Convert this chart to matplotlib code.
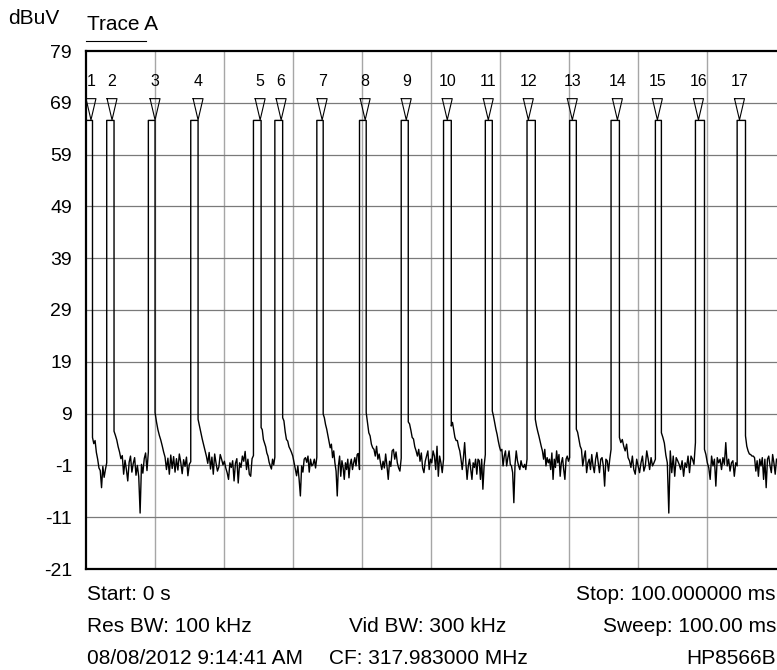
import numpy as np
import matplotlib.pyplot as plt
from matplotlib.lines import Line2D

plt.rcParams['axes.unicode_minus'] = False

# pulse edges in ms
rise_ms = [0.0, 3.0, 9.03, 15.17, 24.25, 27.35, 33.43, 39.61, 45.65,
           51.78, 57.83, 63.87, 70.04, 76.04, 82.46, 88.26, 94.30]
fall_ms = [0.94, 4.06, 10.0, 16.23, 25.36, 28.48, 34.35, 40.58, 46.67,
           52.9, 58.84, 65.07, 71.01, 77.25, 83.33, 89.57, 95.51]
pulse_top = 65.6

# marker positions (ms) and levels
marker_ms = [0.72, 3.77, 10.0, 16.23, 25.22, 28.26, 34.2, 40.43, 46.38,
             52.32, 58.26, 64.06, 70.43, 76.96, 82.75, 88.7, 94.64]
marker_tip = 65.7
marker_top = 69.8
marker_names = [str(i) for i in range(1, 18)]

# trace values between pulses (dBuV), one list per gap
gaps = [
    [4.4, 3.2, 3.8, 1.5, 0.2, -1.5, -2.0, -5.3, -1.2, -3.3, -1.8, -0.5],
    [5.6, 4.8, 3.9, 2.6, 1.6, 0.3, 0.9, -2.7, 0.0, -1.8, -4.0, -0.4, 0.8,
     -2.3, -0.6, 0.5, -2.9, -1.0, -3.2, -10.2, -0.8, -2.5, 0.3, 1.4, -2.0, 1.6],
    [9.2, 7.4, 5.9, 4.8, 3.9, 2.8, 1.6, 0.6, -1.8, 0.4, -2.7, 1.0, -1.6,
     0.7, -2.3, 0.3, -1.9, 1.2, -0.4, -2.6, 0.1, -1.2, 0.6, -3.0, -0.8, -0.3],
    [7.9, 6.6, 5.3, 4.1, 3.0, 1.9, 0.8, -0.6, 1.5, -1.7, 0.6, -2.7, 1.2,
     -0.6, -2.1, -1.3, 1.1, 0.2, -0.9, -0.2, -1.5, -2.4, -3.7, -0.5, -1.4,
     -0.1, -4.0, -0.6, 0.3, -4.4, -0.5, -1.4, 0.8, -0.2, 1.7, -1.8, 0.2,
     -2.7, -3.1, 0.3, 0.9],
    [6.3, 5.9, 4.0, 3.3, 2.6, 1.4, 0.8, -0.4, -1.1, -1.7, 0.2, -0.9, 0.6],
    [8.2, 7.6, 5.5, 4.0, 3.7, 2.6, 2.1, 1.5, 0.8, -0.4, -1.7, -3.0, -1.1,
     -3.7, -6.9, -1.1, -2.3, 0.2, 0.5, -0.4, 0.8, -2.3, 0.2, -1.1, -0.8,
     0.2, -1.5, 0.6],
    [8.9, 8.2, 6.9, 6.0, 4.8, 3.7, 2.4, 3.1, 0.5, 1.8, -0.5, -2.1, -6.9,
     -1.1, 0.8, -3.1, -0.1, -1.4, -3.7, -0.5, -1.8, 0.2, -3.4, -0.8, 0.2,
     -1.8, -0.5, 0.5, -1.1, 1.1, 1.3, -1.8],
    [9.2, 7.3, 5.3, 4.7, 3.1, 2.4, 2.1, 0.8, 2.7, 0.2, 1.2, -0.5, -1.8,
     -0.2, -1.5, 1.2, -1.1, -3.7, -0.2, -1.2, 1.8, 2.1, 0.2, 1.6, -0.5,
     -1.5, -2.1, 0.4],
    [7.4, 7.0, 5.8, 4.4, 4.1, 2.6, 1.8, 0.8, 2.1, -0.2, 1.4, -1.5, -2.4,
     -0.2, 0.8, 1.8, -1.8, 0.2, -0.5, 1.8, 0.8, -1.8, 2.7, -3.1, 0.8, -0.5,
     -2.4, 0.2],
    [6.6, 7.3, 5.8, 4.4, 3.8, 3.8, 2.6, 1.8, 0.2, -1.8, 0.5, 3.4, -0.5,
     -3.7, -1.1, 0.2, -1.8, -3.7, -0.5, -1.4, 0.2, -2.7, 0.2, -0.1, -3.7,
     0.2, -5.6, -1.1, 1.1],
    [9.5, 8.5, 7.2, 6.0, 5.0, 3.7, 2.6, 1.8, 2.1, -1.1, 0.8, 1.8, -1.1,
     0.5, 1.8, -0.8, -1.1, -2.4, -8.2, -0.8, 1.8, -0.1, -1.1, -1.8, -0.1,
     -1.1, -1.4, -0.8, -1.8, 0.2],
    [7.9, 6.6, 5.6, 4.7, 3.7, 2.7, 1.8, 0.2, 2.1, -1.1, 0.5, -0.5, 0.2,
     -1.8, 1.4, -3.7, 0.2, -1.4, 1.8, -0.5, 1.1, -3.1, -0.5, 0.5, -1.8,
     -3.7, 0.2, 0.8, -0.2, 0.5],
    [6.0, 5.4, 4.0, 2.7, 2.1, -1.1, 0.5, 1.8, -2.4, -0.5, 0.2, -1.8, 1.1,
     -1.1, -2.4, 0.2, 1.5, -0.5, -2.4, 0.2, 0.5, -1.1, -5.0, 0.2, -0.1,
     -2.1, 0.2, 2.1],
    [4.4, 3.4, 4.0, 2.7, 1.8, 3.1, 0.5, -0.1, -1.4, 0.8, -1.8, -2.7, 0.2,
     -1.1, -2.4, -0.5, 0.8, -2.1, -1.1, 1.8, 0.2, -1.8, 0.5, -1.1, -0.5, 0.2],
    [5.3, 4.4, 3.3, 1.0, -0.5, -10.2, 1.8, -2.4, 0.8, -3.1, 0.5, -0.1,
     -0.8, -1.8, -0.1, -3.1, -0.5, -1.4, 0.8, -2.4, 0.8, 0.2, -0.8, 3.4],
    [2.1, 1.1, -0.5, -1.4, -3.7, 0.8, -1.1, 0.2, -5.0, 0.5, -0.5, 0.2,
     -1.8, 0.5, -0.8, 3.4, -1.1, 0.2, -2.1, -0.5, -0.1, -3.1, -0.5, -1.1],
    [4.7, 2.7, 1.8, 1.2, 1.1, 0.8, 0.8, 0.5, -2.1, -0.1, -3.1, 0.2, -1.1,
     0.5, -3.7, 0.2, -5.3, 0.2, 0.8, -1.1, -2.4, 1.1, -0.5, -2.7, 0.2],
]
sweep_ms = 100.0

# assemble the trace
t = []
v = []
for i in range(len(rise_ms)):
    t += [rise_ms[i], fall_ms[i]]
    v += [pulse_top, pulse_top]
    end = rise_ms[i + 1] if i + 1 < len(rise_ms) else sweep_ms
    xs = np.linspace(fall_ms[i], end, len(gaps[i]))
    t += list(xs)
    v += gaps[i]

fig = plt.figure(figsize=(7.77, 6.70), dpi=100)
ax = fig.add_axes([86 / 777, 1 - 569 / 670, 690.5 / 777, 518 / 670])

ax.set_xlim(0, 100)
ax.set_ylim(-21, 79)
ax.set_xticks(np.arange(0, 101, 10))
ax.set_yticks(np.arange(-21, 80, 10))
ax.set_xticklabels([])
ax.tick_params(length=0, labelsize=14, pad=10)
for lab in ax.get_yticklabels():
    lab.set_family('Liberation Sans')

for x in np.arange(10, 100, 10):
    ax.axvline(x, color='#a6a6a6', lw=1.0, zorder=0)
for y in np.arange(-11, 79, 10):
    ax.axhline(y, color='#7a7a7a', lw=0.9, zorder=0)

for side in ['left', 'top', 'bottom']:
    ax.spines[side].set_linewidth(1.6)
ax.spines['right'].set_visible(False)

ax.plot(t, v, color='black', lw=1.0, zorder=3)

# markers: open triangles with numbers above
hw = 0.72
for m, name in zip(marker_ms, marker_names):
    ax.plot([m - hw, m + hw, m, m - hw],
            [marker_top, marker_top, marker_tip, marker_top],
            color='black', lw=0.8, zorder=4)
    ax.text(m, 73.1, name, ha='center', va='center', fontsize=11.5,
            family='Liberation Sans')

sans = 'Liberation Sans'
fig.text(8 / 777, 1 - 19 / 670, 'dBuV', fontsize=15, family=sans,
         ha='left', va='center')
fig.text(87 / 777, 1 - 24 / 670, 'Trace A', fontsize=15, family=sans,
         ha='left', va='center')
fig.add_artist(Line2D([86 / 777, 146 / 777], [1 - 41 / 670, 1 - 41 / 670],
                      color='black', lw=0.8))

rows = [1 - 595 / 670, 1 - 627 / 670, 1 - 658 / 670]
left = 87 / 777
right = 776 / 777
fig.text(left, rows[0], 'Start: 0 s', fontsize=15, family=sans, va='center')
fig.text(right, rows[0], 'Stop: 100.000000 ms', fontsize=15, family=sans,
         va='center', ha='right')
fig.text(left, rows[1], 'Res BW: 100 kHz', fontsize=15, family=sans,
         va='center')
fig.text(349 / 777, rows[1], 'Vid BW: 300 kHz', fontsize=15, family=sans,
         va='center')
fig.text(right, rows[1], 'Sweep: 100.00 ms', fontsize=15, family=sans,
         va='center', ha='right')
fig.text(left, rows[2], '08/08/2012 9:14:41 AM', fontsize=15, family=sans,
         va='center')
fig.text(329 / 777, rows[2], 'CF: 317.983000 MHz', fontsize=15, family=sans,
         va='center')
fig.text(right, rows[2], 'HP8566B', fontsize=15, family=sans,
         va='center', ha='right')

fig.savefig('out.png', dpi=100)
